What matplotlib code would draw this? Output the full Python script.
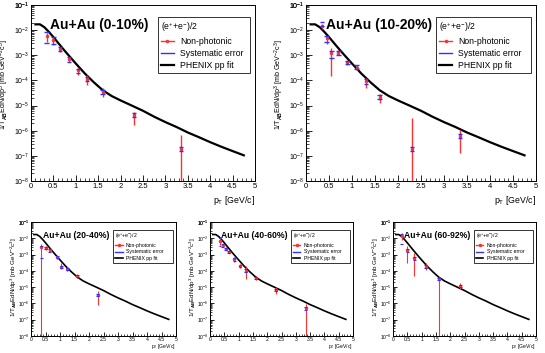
import numpy as np
import matplotlib
matplotlib.use('Agg')
import matplotlib.pyplot as plt
from matplotlib.lines import Line2D
from matplotlib.ticker import FixedLocator, MultipleLocator, NullFormatter

plt.rcParams['font.family'] = ['Liberation Sans', 'DejaVu Sans']
plt.rcParams['mathtext.fontset'] = 'custom'
plt.rcParams['mathtext.rm'] = 'Liberation Sans'
plt.rcParams['mathtext.bf'] = 'Liberation Sans:bold'

# PHENIX pp fit (same curve in every panel)
fit_pt = [0.1, 0.2, 0.3, 0.4, 0.5, 0.6, 0.7, 0.8, 0.9, 1.0, 1.2, 1.4, 1.6, 1.8, 2.0,
          2.25, 2.5, 2.75, 3.0, 3.25, 3.5, 3.75, 4.0, 4.25, 4.5, 4.75]
fit_y = [1.7e-2, 1.7e-2, 1.3e-2, 8.5e-3, 5.3e-3, 3.2e-3, 1.95e-3, 1.2e-3, 7.5e-4, 4.7e-4,
         1.9e-4, 8.5e-5, 4.1e-5, 2.4e-5, 1.6e-5, 1.0e-5, 6.2e-6, 3.6e-6, 2.2e-6, 1.4e-6,
         8.5e-7, 5.5e-7, 3.5e-7, 2.3e-7, 1.55e-7, 1.05e-7]

# 0-10%
pt_010 = [0.35, 0.5, 0.65, 0.85, 1.05, 1.25, 1.6, 2.3, 3.35]
y_010 = [6.0e-3, 4.1e-3, 1.7e-3, 7.0e-4, 2.5e-4, 1.1e-4, 3.5e-5, 4.2e-6, 1.9e-7]
stlo_010 = [3.5e-3, 2.6e-3, 1.4e-3, 5.6e-4, 1.6e-4, 6.6e-5, 2.2e-5, 1.7e-6, 1e-9]
sthi_010 = [7.5e-3, 5.5e-3, 2.2e-3, 8.7e-4, 3.0e-4, 1.6e-4, 4.8e-5, 5.8e-6, 6.7e-7]
sylo_010 = [3.0e-3, 2.8e-3, 1.5e-3, 5.6e-4, 2.0e-4, 9.4e-5, 2.9e-5, 3.4e-6, 1.6e-7]
syhi_010 = [8.7e-3, 5.2e-3, 2.2e-3, 8.3e-4, 2.8e-4, 1.4e-4, 4.1e-5, 5.2e-6, 2.3e-7]

# 10-20%
pt_1020 = [0.35, 0.45, 0.55, 0.7, 0.9, 1.1, 1.3, 1.6, 2.3, 3.35]
y_1020 = [1.4e-2, 4.7e-3, 1.2e-3, 1.25e-3, 5.2e-4, 3.2e-4, 9.5e-5, 2.2e-5, 1.9e-7, 6.2e-7]
stlo_1020 = [1.1e-2, 2.9e-3, 1.5e-4, 1.0e-3, 4.3e-4, 2.6e-4, 5.0e-5, 1.3e-5, 1e-9, 1.35e-7]
sthi_1020 = [1.7e-2, 6.0e-3, 2.0e-3, 1.6e-3, 6.0e-4, 4.0e-4, 1.3e-4, 3.0e-5, 3.2e-6, 1.1e-6]
sylo_1020 = [1.5e-2, 3.5e-3, 8.0e-4, 1.0e-3, 4.5e-4, 2.8e-4, 7.0e-5, 1.8e-5, 1.6e-7, 5.0e-7]
syhi_1020 = [2.2e-2, 6.0e-3, 1.5e-3, 1.5e-3, 6.2e-4, 4.0e-4, 1.1e-4, 2.6e-5, 2.3e-7, 7.5e-7]

# 20-40%
pt_2040 = [0.35, 0.5, 0.65, 0.9, 1.05, 1.25, 1.6, 2.3]
y_2040 = [2.9e-3, 2.5e-3, 1.8e-3, 6.7e-4, 1.8e-4, 1.3e-4, 4.7e-5, 3.4e-6]
stlo_2040 = [1e-9, 1.9e-3, 1.4e-3, 5.0e-4, 1.25e-4, 1.0e-4, 3.6e-5, 7.5e-7]
sthi_2040 = [4.6e-3, 3.5e-3, 2.2e-3, 8.5e-4, 3.2e-4, 1.7e-4, 6.0e-5, 5.9e-6]
sylo_2040 = [6.0e-4, 2.1e-3, 1.5e-3, 5.8e-4, 1.6e-4, 1.1e-4, 4.0e-5, 2.9e-6]
syhi_2040 = [3.6e-3, 3.1e-3, 2.1e-3, 7.7e-4, 2.1e-4, 1.5e-4, 5.4e-5, 4.0e-6]

# 40-60%
pt_4060 = [0.35, 0.45, 0.55, 0.65, 0.85, 1.05, 1.25, 1.6, 2.3, 3.35]
y_4060 = [7.0e-3, 3.7e-3, 2.3e-3, 1.45e-3, 5.0e-4, 2.0e-4, 1.05e-4, 3.7e-5, 6.5e-6, 5.0e-7]
stlo_4060 = [4.0e-3, 2.9e-3, 1.9e-3, 1.2e-3, 3.5e-4, 1.5e-4, 3.0e-5, 2.9e-5, 3.8e-6, 1e-9]
sthi_4060 = [1.2e-2, 4.6e-3, 2.8e-3, 1.8e-3, 6.9e-4, 2.7e-4, 2.1e-4, 4.7e-5, 1.0e-5, 9.0e-7]
sylo_4060 = [3.2e-3, 3.1e-3, 2.0e-3, 1.25e-3, 4.2e-4, 1.7e-4, 8.5e-5, 3.2e-5, 5.5e-6, 4.2e-7]
syhi_4060 = [1.0e-2, 4.4e-3, 2.6e-3, 1.7e-3, 6.0e-4, 2.4e-4, 1.3e-4, 4.3e-5, 7.5e-6, 6.0e-7]

# 60-92%
pt_6092 = [0.3, 0.5, 0.75, 1.15, 1.6, 2.35]
y_6092 = [1.45e-2, 1.8e-3, 5.9e-4, 1.8e-4, 3.0e-5, 1.2e-5]
stlo_6092 = [8.0e-3, 3.0e-4, 5.0e-5, 1.1e-4, 1e-9, 8.0e-6]
sthi_6092 = [2.2e-2, 3.6e-3, 1.2e-3, 3.2e-4, 4.1e-5, 1.7e-5]
sylo_6092 = [4.5e-3, 1.4e-3, 4.8e-4, 1.5e-4, 2.6e-5, 1.0e-5]
syhi_6092 = [1.8e-2, 2.3e-3, 7.2e-4, 2.2e-4, 3.5e-5, 1.45e-5]

decades = [10.0 ** k for k in range(-8, 0)]

W, H = 545, 353
fig = plt.figure(figsize=(W / 100, H / 100), dpi=100)


def px_axes(x0, y0, x1, y1):
    # pixel box (left, top, right, bottom) -> figure fraction
    return fig.add_axes([x0 / W, 1 - y1 / H, (x1 - x0) / W, (y1 - y0) / H])


def panel(ax, pt, y, stlo, sthi, sylo, syhi, title, big):
    fs_tick = 5.0 if big else 3.6
    ax.set_xlim(0, 5)
    ax.set_ylim(1e-8, 1e-1)
    ax.set_yscale('log')
    ax.plot(fit_pt, fit_y, color='black', lw=1.6 if big else 1.2, zorder=2)
    pt = np.array(pt)
    y = np.array(y)
    yerr = [y - np.array(stlo), np.array(sthi) - y]
    ax.errorbar(pt, y, yerr=yerr, fmt='o', color='#ff3030', ms=1.5,
                elinewidth=1.0 if big else 0.8, capsize=0, zorder=3)
    hw = 0.05
    ax.hlines(sylo, pt - hw, pt + hw, color='#3030ff', lw=1.0 if big else 0.8, zorder=4)
    ax.hlines(syhi, pt - hw, pt + hw, color='#3030ff', lw=1.0 if big else 0.8, zorder=4)
    ax.xaxis.set_major_locator(MultipleLocator(0.5))
    ax.xaxis.set_minor_locator(MultipleLocator(0.1))
    ax.xaxis.set_major_formatter(plt.FuncFormatter(lambda v, p: '%g' % v))
    ax.yaxis.set_major_locator(FixedLocator(decades + [1e-1]))
    ax.yaxis.set_minor_locator(FixedLocator([m * d for d in decades for m in range(2, 10)]))
    ax.yaxis.set_minor_formatter(NullFormatter())
    ax.tick_params(which='both', direction='in', labelsize=fs_tick,
                   top=False, right=False)
    ax.tick_params(axis='x', labelsize=5.5 if big else 3.6, pad=1.5 if big else 0.5)
    ax.tick_params(axis='y', pad=1.5 if big else 1.0)
    ax.tick_params(which='major', length=4 if big else 3, width=0.6)
    ax.tick_params(which='minor', length=2 if big else 1.5, width=0.5)
    for s in ax.spines.values():
        s.set_linewidth(0.7)
    ax.text(0.085 if big else 0.08, 0.885, title, transform=ax.transAxes,
            fontsize=10 if big else 6.2, fontweight='bold', va='center', ha='left')
    handles = [Line2D([], [], color='#ff3030', lw=1.0, marker='o', ms=1.5),
               Line2D([], [], color='#3030ff', lw=1.0),
               Line2D([], [], color='black', lw=1.6 if big else 1.2)]
    labels = ['Non-photonic', 'Systematic error', 'PHENIX pp fit']
    leg = ax.legend(handles, labels, title='(e$^{+}$+e$^{-}$)/2', loc='upper right',
                    bbox_to_anchor=(0.555, 0.6, 0.435, 0.345), mode='expand',
                    fontsize=6.2 if big else 3.7, title_fontsize=6.2 if big else 3.7,
                    frameon=True, fancybox=False, edgecolor='black',
                    handlelength=1.5, borderpad=0.35, labelspacing=0.35,
                    handletextpad=0.7, borderaxespad=0.3)
    leg._legend_box.align = 'left'
    leg.get_frame().set_linewidth(0.7)
    ax.text(1.0, -0.075 if big else -0.05, r'p$_{\mathrm{T}}$ [GeV/c]', transform=ax.transAxes,
            fontsize=6.3 if big else 3.6, ha='right', va='top')
    ax.set_ylabel(r'1/T$_{\mathbf{AB}}$EdN/dp$^{3}$ [mb GeV$^{-2}$c$^{3}$]',
                  fontsize=5.1 if big else 4.5)
    if big:
        ax.yaxis.set_label_coords(-0.088, 0.55)
    else:
        ax.yaxis.set_label_coords(-0.085, 0.52)


ax1 = px_axes(31, 5, 255, 181)
panel(ax1, pt_010, y_010, stlo_010, sthi_010, sylo_010, syhi_010, 'Au+Au (0-10%)', True)
ax2 = px_axes(306, 5, 536, 181)
panel(ax2, pt_1020, y_1020, stlo_1020, sthi_1020, sylo_1020, syhi_1020, 'Au+Au (10-20%)', True)
ax3 = px_axes(31, 222, 176, 336)
panel(ax3, pt_2040, y_2040, stlo_2040, sthi_2040, sylo_2040, syhi_2040, 'Au+Au (20-40%)', False)
ax4 = px_axes(210, 222, 353, 336)
panel(ax4, pt_4060, y_4060, stlo_4060, sthi_4060, sylo_4060, syhi_4060, 'Au+Au (40-60%)', False)
ax5 = px_axes(393, 222, 536, 336)
panel(ax5, pt_6092, y_6092, stlo_6092, sthi_6092, sylo_6092, syhi_6092, 'Au+Au (60-92%)', False)

fig.savefig('out.png', dpi=100)
